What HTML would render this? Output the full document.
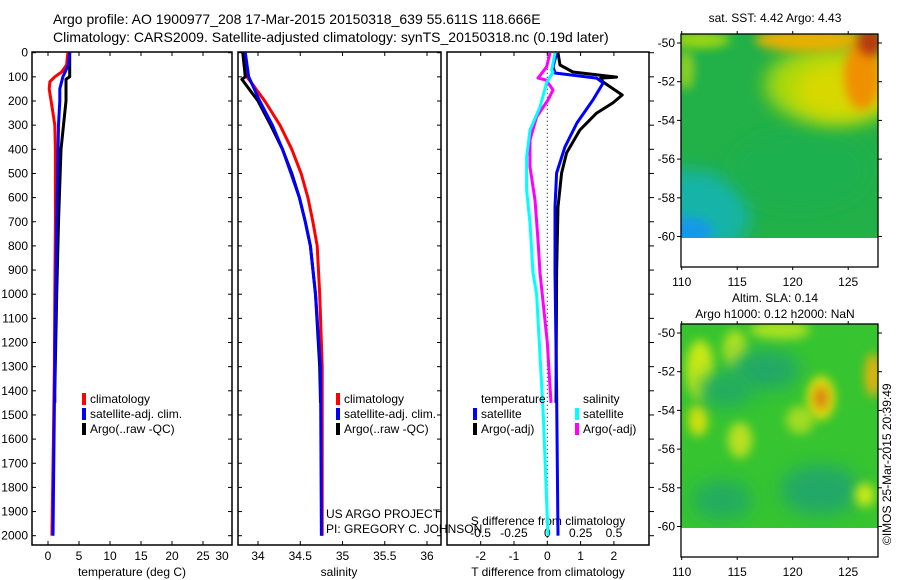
<!DOCTYPE html>
<html><head><meta charset="utf-8"><style>
body{margin:0;background:#fff;}
svg{display:block;font-family:"Liberation Sans",sans-serif;}
text{font-size:12px;fill:#000;}
</style></head><body>
<svg id="c" width="900" height="580" viewBox="0 0 900 580">
<defs>
<filter id="bl" x="-50%" y="-50%" width="200%" height="200%"><feGaussianBlur stdDeviation="9"/></filter>
<filter id="bl2" x="-50%" y="-50%" width="200%" height="200%"><feGaussianBlur stdDeviation="5"/></filter>
<clipPath id="cp1"><rect x="681" y="34" width="197" height="204"/></clipPath>
<clipPath id="cp2"><rect x="681" y="324" width="197" height="204"/></clipPath>
</defs>
<text x="53" y="24" style="font-size:14px">Argo profile: AO 1900977_208 17-Mar-2015 20150318_639 55.611S 118.666E</text>
<text x="53" y="42" style="font-size:14px">Climatology: CARS2009. Satellite-adjusted climatology: synTS_20150318.nc (0.19d later)</text>

<g clip-path="url(#cp1)">
<rect x="681" y="34" width="197" height="204" fill="#22b048"/>
<ellipse cx="690" cy="215" rx="60" ry="45" fill="#14b4a8" filter="url(#bl)"/>
<ellipse cx="688" cy="232" rx="25" ry="15" fill="#1898e8" filter="url(#bl2)"/>
<ellipse cx="800" cy="170" rx="70" ry="40" fill="#1ab050" filter="url(#bl)"/>
<ellipse cx="835" cy="85" rx="70" ry="40" fill="#a8d810" filter="url(#bl)"/>
<ellipse cx="840" cy="90" rx="45" ry="28" fill="#d8d800" filter="url(#bl)"/>
<ellipse cx="810" cy="40" rx="55" ry="12" fill="#e8b000" filter="url(#bl2)"/>
<ellipse cx="862" cy="75" rx="18" ry="35" fill="#f09000" filter="url(#bl2)"/>
<ellipse cx="870" cy="42" rx="12" ry="14" fill="#b83810" filter="url(#bl2)"/>
<ellipse cx="700" cy="40" rx="30" ry="8" fill="#a0d810" filter="url(#bl2)"/>
<ellipse cx="686" cy="70" rx="8" ry="20" fill="#90d020" filter="url(#bl2)"/>
</g>
<rect x="681" y="238" width="197" height="29" fill="#fff"/>
<rect x="681" y="34" width="197" height="233" fill="none" stroke="#000" stroke-width="1.3"/>
<text x="775" y="22" text-anchor="middle">sat. SST: 4.42 Argo: 4.43</text>

<g clip-path="url(#cp2)">
<rect x="681" y="324" width="197" height="204" fill="#36c430"/>
<ellipse cx="700" cy="370" rx="14" ry="30" fill="#c8e818" filter="url(#bl2)"/>
<ellipse cx="698" cy="420" rx="10" ry="16" fill="#d0e010" filter="url(#bl2)"/>
<ellipse cx="735" cy="350" rx="12" ry="20" fill="#b0e020" filter="url(#bl2)"/>
<ellipse cx="740" cy="440" rx="12" ry="18" fill="#b8e020" filter="url(#bl2)"/>
<ellipse cx="780" cy="330" rx="30" ry="10" fill="#a8e020" filter="url(#bl2)"/>
<ellipse cx="800" cy="420" rx="14" ry="14" fill="#a0dc20" filter="url(#bl2)"/>
<ellipse cx="765" cy="370" rx="35" ry="20" fill="#20a868" filter="url(#bl)"/>
<ellipse cx="820" cy="490" rx="40" ry="25" fill="#20a868" filter="url(#bl)"/>
<ellipse cx="722" cy="500" rx="30" ry="20" fill="#22ac60" filter="url(#bl)"/>
<ellipse cx="725" cy="390" rx="28" ry="18" fill="#22ac60" filter="url(#bl)"/>
<ellipse cx="821" cy="398" rx="14" ry="22" fill="#e0e010" filter="url(#bl2)"/>
<ellipse cx="821" cy="398" rx="7" ry="12" fill="#d88010" filter="url(#bl2)"/>
<ellipse cx="873" cy="375" rx="8" ry="22" fill="#e8b010" filter="url(#bl2)"/>
<ellipse cx="865" cy="495" rx="10" ry="12" fill="#c8e818" filter="url(#bl2)"/>
</g>
<rect x="681" y="528" width="197" height="29" fill="#fff"/>
<rect x="681" y="324" width="197" height="233" fill="none" stroke="#000" stroke-width="1.3"/>
<text x="775" y="302" text-anchor="middle">Altim. SLA: 0.14</text>
<text x="775" y="318" text-anchor="middle">Argo h1000: 0.12 h2000: NaN</text>
<text transform="translate(891,545) rotate(-90)">©IMOS 25-Mar-2015 20:39:49</text>
<g id="g"></g>
</svg>
<script>
const depthTicks=[0,100,200,300,400,500,600,700,800,900,1000,1100,1200,1300,1400,1500,1600,1700,1800,1900,2000];
const tTicks=[0,5,10,15,20,25,30];
const sTicks=[34,34.5,35,35.5,36];
const dTicks=[-2,-1,0,1,2];
const dsTicks=[-0.5,-0.25,0,0.25,0.5];
const dsTickLabels=["-0.5","-0.25","0","0.25","0.5"];
const climTdepth=[0,50,80,100,120,150,200,250,300,400,700,1000,1300,1600,2000];
const climT=[3.2,3.0,2.2,1.1,0.3,0.2,0.5,0.8,1.1,1.2,1.2,1.1,1.03,0.87,0.63];
const satTdepth=[0,50,100,150,200,300,700,1300,2000];
const satT=[3.5,3.3,2.4,1.9,1.9,1.7,1.4,1.1,0.8];
const argoTdepth=[0,100,110,200,300,400,700,1000,1400,1450];
const argoT=[3.5,3.5,2.9,2.9,2.5,2.1,1.7,1.4,1.1,1.1];
const climSdepth=[0,100,200,300,400,500,600,700,800,1000,1300,2000];
const climS=[33.82,33.87,34.08,34.26,34.40,34.51,34.59,34.65,34.70,34.73,34.76,34.76];
const satSdepth=[0,100,200,300,400,500,600,700,800,1000,1300,2000];
const satS=[33.85,33.89,34.02,34.17,34.29,34.39,34.49,34.56,34.62,34.68,34.74,34.75];
const argoSdepth=[0,100,110,200,300,400,500,600,700,800,1000,1300,1450];
const argoS=[33.82,33.85,33.81,34.0,34.15,34.29,34.40,34.49,34.56,34.62,34.68,34.73,34.74];
const dTsatDepth=[2,59,84,105,125,196,291,391,498,639,912,1400,2000];
const dTsat=[0.28,0.17,0.23,1.48,1.68,1.37,0.89,0.53,0.28,0.23,0.23,0.28,0.32];
const dTargoDepth=[1,51,80,101,105,121,175,208,250,320,415,498,639,912,1450];
const dTargo=[0.32,0.38,0.77,2.08,1.6,1.67,2.25,1.97,1.48,0.98,0.58,0.43,0.32,0.28,0.26];
const dSsatDepth=[1,72,80,125,225,320,432,568,706,912,1000,1500,2000];
const dSsat=[0.058,0.033,0.043,-0.005,-0.055,-0.13,-0.155,-0.155,-0.13,-0.107,-0.08,-0.03,0.005];
const dSargoDepth=[1,59,105,113,154,196,266,361,473,610,776,912,1200,1450];
const dSargo=[0.02,-0.005,-0.07,-0.01,0.043,0.005,-0.08,-0.13,-0.13,-0.092,-0.07,-0.055,0.0,0.028];
const y=d=>52.7+d*0.2415;
const xT=v=>48+v*6.2;
const xS=v=>258+(v-34)*84.5;
const xD=v=>547.3+v*33.3;
const xDS=v=>547.3+v*133.3;
const NS='http://www.w3.org/2000/svg';
const g=document.getElementById('g');
function el(tag,attrs,txt){const e=document.createElementNS(NS,tag);for(const k in attrs)e.setAttribute(k,attrs[k]);if(txt!==undefined)e.textContent=txt;g.appendChild(e);return e;}
const panels=[[32,232],[238,441],[447,649]];
panels.forEach((p,i)=>{
  const r=el('rect',{x:p[0],y:52,width:p[1]-p[0],height:493,fill:'none',stroke:'#000','stroke-width':1.5});
  
  
  depthTicks.forEach(d=>{
    if(i<2){el('line',{x1:p[0],x2:p[0]+4,y1:y(d),y2:y(d),stroke:'#000'});el('line',{x1:p[1],x2:p[1]-4,y1:y(d),y2:y(d),stroke:'#000'});}
    else el('line',{x1:p[1],x2:p[1]+5,y1:y(d),y2:y(d),stroke:'#000'});
  });
});
depthTicks.forEach(d=>{
  const t=el('text',{x:28,y:y(d)+4,'text-anchor':'end'},String(d));
  
  
});
function xticks(vals,fx,labels,ly,name,lo,hi){
  vals.forEach((v,k)=>{
    let px=fx(v);
    if(px<=hi){
      el('line',{x1:px,x2:px,y1:52,y2:56,stroke:'#000'});
      el('line',{x1:px,x2:px,y1:545,y2:541,stroke:'#000'});
    }
    const lx=Math.min(px,hi-10);
    const t=el('text',{x:lx,y:ly,'text-anchor':'middle'},labels[k]);
    
    
  });
}
xticks(tTicks,xT,tTicks.map(String),560,'temperature-tick-label',32,232);
xticks(sTicks,xS,sTicks.map(String),560,'salinity-tick-label',238,441);
xticks(dTicks,xD,dTicks.map(String),560,'t-diff-tick-label',447,649);
dsTicks.forEach((v,k)=>{
  const t=el('text',{x:xDS(v),y:537,'text-anchor':'middle'},dsTickLabels[k]);
  
  
});
[[132,'temperature (deg C)','x-axis-title-temperature'],[339,'salinity','x-axis-title-salinity'],[548,'T difference from climatology','x-axis-title-t-diff'],[548,'S difference from climatology','x-axis-title-s-diff']].forEach((a,k)=>{
  const t=el('text',{x:a[0],y:k==3?525:576,'text-anchor':'middle'},a[1]);
  
  
});
const zl=el('line',{x1:xD(0),x2:xD(0),y1:y(0),y2:545,stroke:'#000','stroke-dasharray':'1,3'});


function series(dep,val,fx,col,name){
  const d=dep.map((z,k)=>(k?'L':'M')+fx(val[k]).toFixed(1)+','+y(z).toFixed(1)).join('');
  const p=el('path',{d:d,fill:'none',stroke:col,'stroke-width':3,'stroke-linejoin':'round'});
  
  
}
series(climTdepth,climT,xT,'#f00','temperature-climatology-line');
series(argoTdepth,argoT,xT,'#000','temperature-argo-line');
series(satTdepth,satT,xT,'#00f','temperature-satellite-line');
series(climSdepth,climS,xS,'#f00','salinity-climatology-line');
series(argoSdepth,argoS,xS,'#000','salinity-argo-line');
series(satSdepth,satS,xS,'#00f','salinity-satellite-line');
series(dTargoDepth,dTargo,xD,'#000','t-diff-argo-line');
series(dTsatDepth,dTsat,xD,'#00f','t-diff-satellite-line');
series(dSargoDepth,dSargo,xDS,'#f0f','s-diff-argo-line');
series(dSsatDepth,dSsat,xDS,'#0ff','s-diff-satellite-line');
function leg(x,yy,col,label,name){
  const r=el('rect',{x:x,y:yy-10,width:4,height:12,fill:col});
  
  
  const t=el('text',{x:x+8,y:yy},label);
  
  
}
[[82],[336]].forEach((a,i)=>{
  leg(a[0],403,'#f00','climatology','legend-climatology-'+(i+1));
  leg(a[0],418,'#00f','satellite-adj. clim.','legend-satellite-'+(i+1));
  leg(a[0],433,'#000','Argo(..raw -QC)','legend-argo-'+(i+1));
});
const lt=el('text',{x:481,y:403},'temperature');


const ls=el('text',{x:583,y:403},'salinity');


leg(473,418,'#00f','satellite','legend-t-satellite');
leg(473,433,'#000','Argo(-adj)','legend-t-argo');
leg(575,418,'#0ff','satellite','legend-s-satellite');
leg(575,433,'#f0f','Argo(-adj)','legend-s-argo');
const u1=el('text',{x:326,y:518},'US ARGO PROJECT');


const u2=el('text',{x:326,y:533},'PI: GREGORY C. JOHNSON');


function mapAxes(top,name){
  [-50,-52,-54,-56,-58,-60].forEach((v,k)=>{
    const yy=top+9+k*38.7;
    el('line',{x1:681,x2:677,y1:yy,y2:yy,stroke:'#000'});
    el('line',{x1:878,x2:882,y1:yy,y2:yy,stroke:'#000'});
    const t=el('text',{x:675,y:yy+4,'text-anchor':'end'},String(v));
    
    
  });
  [110,115,120,125].forEach(v=>{
    const xx=681.7+(v-110)*11.1;
    el('line',{x1:xx,x2:xx,y1:top,y2:top-3,stroke:'#000'});
    el('line',{x1:xx,x2:xx,y1:top+233,y2:top+236,stroke:'#000'});
    const t=el('text',{x:xx,y:top+252,'text-anchor':'middle'},String(v));
    
    
  });
}
mapAxes(34,'sst-map');
mapAxes(324,'sla-map');
</script>
</body></html>
